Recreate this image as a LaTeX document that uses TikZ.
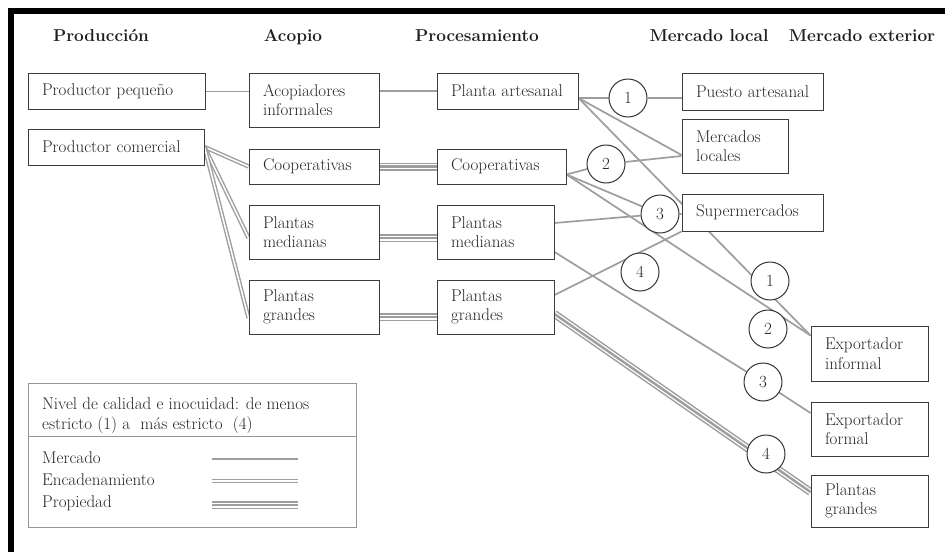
\documentclass[tikz,border=0pt]{standalone}
\usepackage{fontspec}
\usetikzlibrary{calc}
\definecolor{linkgray}{RGB}{158,158,158}
\definecolor{boxline}{RGB}{60,60,60}
\definecolor{legline}{RGB}{150,150,150}
\pgfdeclarelayer{bg}
\pgfdeclarelayer{links}
\pgfsetlayers{bg,links,main}

\begin{document}
\begin{tikzpicture}[x=1pt,y=-1pt,
  txt/.style={font=\fontsize{17pt}{19.5pt}\selectfont, text=black!85},
  head/.style={font=\fontsize{17.2pt}{20pt}\selectfont\bfseries, text=black!88, anchor=base},
  box/.style n args={3}{draw=boxline, line width=1pt, fill=white, txt, align=left,
    inner xsep=14pt, inner ysep=0pt, minimum width=#1, text width=#2, minimum height=#3},
  num/.style={circle, draw=black!80, line width=1pt, fill=white, minimum size=38pt,
    inner sep=0pt, txt},
  mkt/.style={draw=linkgray, line width=1.7pt},
  chain/.style={draw=linkgray, line width=1.4pt, double=white, double distance=1.5pt},
  own/.style={draw=linkgray, line width=8pt,
    postaction={draw=white, line width=5pt},
    postaction={draw=linkgray, line width=2.4pt}},
  legtxt/.style={txt, anchor=base west, inner sep=0pt}
]
\useasboundingbox (0,0) rectangle (945,552);
\begin{pgfonlayer}{bg}
  \fill[white] (0,0) rectangle (945,552);
\end{pgfonlayer}

% frame bars
\fill[black] (8,8) rectangle (945,14);
\fill[black] (8,8) rectangle (14,552);

% column headings
\node[head] (hprod) at (101,41) {Producción};
\node[head] (hacop) at (293,41) {Acopio};
\node[head] (hproc) at (477,41) {Procesamiento};
\node[head] (hloc)  at (709,41) {Mercado local};
\node[head] (hext)  at (862,41) {Mercado exterior};

% production
\node[box={177pt}{149pt}{36pt}] (pp) at (116.5,91.5) {\mbox{Productor pequeño}};
\node[box={176pt}{148pt}{36pt}] (pc) at (116,147) {\mbox{Productor comercial}};

% collection
\node[box={130pt}{102pt}{54pt}] (ai)  at (314,100) {Acopiadores\\informales};
\node[box={130pt}{102pt}{35pt}] (co1) at (314,166.5) {Cooperativas};
\node[box={130pt}{102pt}{54pt}] (pm1) at (314,232) {Plantas\\medianas};
\node[box={130pt}{102pt}{54pt}] (pg1) at (314,307) {Plantas\\grandes};

% processing
\node[box={141pt}{113pt}{36pt}] (pa)  at (507.5,91) {\mbox{Planta artesanal}};
\node[box={129pt}{101pt}{35pt}] (co2) at (501.5,166.5) {Cooperativas};
\node[box={117pt}{89pt}{54pt}]  (pm2) at (495.5,232) {Plantas\\medianas};
\node[box={117pt}{89pt}{54pt}]  (pg2) at (495.5,307) {Plantas\\grandes};

% local market
\node[box={141pt}{113pt}{37pt}] (pu) at (752.5,91.5) {\mbox{Puesto artesanal}};
\node[box={106pt}{78pt}{54pt}]  (ml) at (735,146) {Mercados\\locales};
\node[box={141pt}{113pt}{37pt}] (sm) at (752.5,212.5) {Supermercados};

% external market
\node[box={117pt}{89pt}{55pt}] (ei)  at (869.5,353.5) {Exportador\\informal};
\node[box={117pt}{89pt}{54pt}] (ef)  at (869.5,429) {Exportador\\formal};
\node[box={117pt}{89pt}{52pt}] (pge) at (869.5,501) {Plantas\\grandes};

% quality levels
\node[num] (c1)  at (628,98)  {1};
\node[num] (c2)  at (606,164) {2};
\node[num] (c3)  at (660,214) {3};
\node[num] (c4)  at (640,272) {4};
\node[num] (c1b) at (770,281) {1};
\node[num] (c2b) at (768,329) {2};
\node[num] (c3b) at (763,382) {3};
\node[num] (c4b) at (766,454) {4};

\begin{pgfonlayer}{links}
  % producers to collectors
  \draw[mkt] (pp.east) -- (pp.east -| ai.west);
  \draw[mkt] (pa.west -| ai.east) -- (pa.west);
  \draw[chain] (pc.east) -- (co1.west);
  \draw[chain] (pc.east) -- ([yshift=-6pt]pm1.west);
  \draw[chain] (pc.east) -- ([yshift=-11pt]pg1.west);
  % collectors to processors
  \draw[own] (co1.east) -- (co2.west);
  \draw[own] ([yshift=-6pt]pm1.east) -- ([yshift=-6pt]pm2.west);
  \draw[own] ([yshift=-10pt]pg1.east) -- ([yshift=-10pt]pg2.west);
  % processors to markets
  \draw[mkt] ([yshift=-7pt]pa.east) -- (c1) -- (c1 -| pu.west);
  \draw[mkt] ([yshift=-7pt]pa.east) -- ([yshift=-9pt]ml.west);
  \draw[mkt] ([yshift=-7pt]pa.east) -- ([yshift=-10pt]ei.north west);
  \draw[mkt] ([yshift=-8pt]co2.east) -- (c2) -- ([yshift=-10pt]ml.west);
  \draw[mkt] ([yshift=-8pt]co2.east) -- (c3) -- (c3 -| sm.west);
  \draw[mkt] ([yshift=-8pt]co2.east) -- ([yshift=-10pt]ei.north west);
  \draw[mkt] ([yshift=9pt]pm2.east) -- (c3);
  \draw[mkt] ([yshift=-20pt]pm2.east) -- (c3b) -- ([yshift=16pt]ef.west);
  \draw[mkt] ([yshift=12pt]pg2.east) -- (sm.south west);
  \draw[own] ([yshift=-7pt]pg2.east) -- ([yshift=9pt]pge.west);
\end{pgfonlayer}

% legend
\node[draw=legline, line width=1pt, minimum width=328pt, minimum height=144pt, inner sep=0pt]
  (leg) at (192,455) {};
\draw[legline, line width=1pt] ([yshift=-54pt]leg.north west) -- ([yshift=-54pt]leg.north east);
\node[legtxt] (l1) at (42,409) {Nivel de calidad e inocuidad: de menos};
\node[legtxt] (l2) at (42,429) {estricto (1) a\ \ más estricto\ \ (4)};
\node[legtxt] (lm) at (42,463) {Mercado};
\node[legtxt] (le) at (42,485) {Encadenamiento};
\node[legtxt] (lp) at (42,507) {Propiedad};
\coordinate (ma) at (212,459); \coordinate (mb) at (298,459);
\coordinate (ea) at (212,481); \coordinate (eb) at (298,481);
\coordinate (pa1) at (212,505); \coordinate (pb1) at (298,505);
\draw[mkt, line width=2.2pt] (ma) -- (mb);
\draw[chain] (ea) -- (eb);
\draw[own] (pa1) -- (pb1);
\end{tikzpicture}
\end{document}
